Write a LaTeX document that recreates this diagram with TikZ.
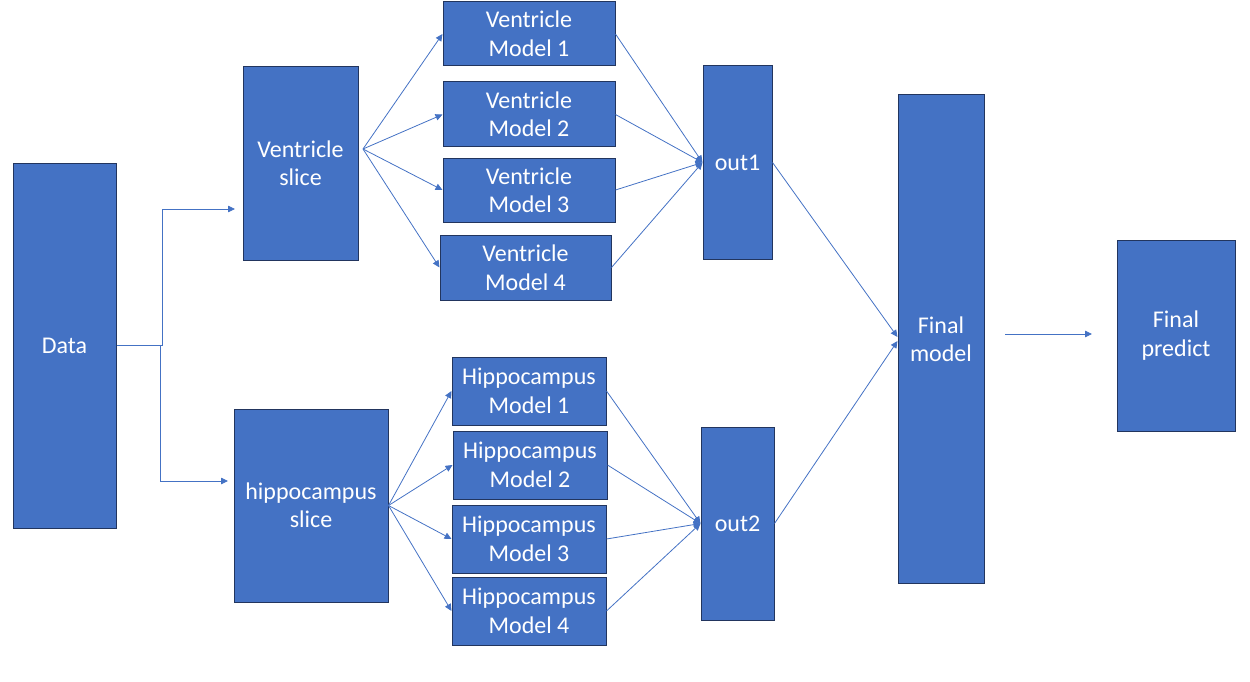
\documentclass[tikz,border=0pt]{standalone}
\usepackage{fontspec}
\setmainfont{Carlito}
\usetikzlibrary{arrows.meta,calc}
\definecolor{boxfill}{HTML}{4472C4}
\definecolor{boxline}{HTML}{22355E}
\definecolor{arrcol}{HTML}{4472C4}
\begin{document}
\begin{tikzpicture}[x=1pt,y=-1pt,
  box/.style={draw=boxline, fill=boxfill, text=white, line width=1pt, inner sep=0pt, align=center,
    font=\fontsize{24}{28.5}\selectfont},
  arr/.style={draw=arrcol, line width=0.8pt, -{Triangle[length=7pt,width=6.5pt]}},
  ln/.style={draw=arrcol, line width=0.8pt}]
\useasboundingbox (0,0) rectangle (1250,682);
% boxes
\node[box, minimum width=103pt, minimum height=365pt] (data) at (64.5,345.5) {Data};
\node[box, minimum width=115pt, minimum height=193pt] (vslice) at (300.5,163.5) {Ventricle\\slice};
\node[box, minimum width=154pt, minimum height=193pt] (hslice) at (311,505.5) {hippocampus\\slice};
\node[box, minimum width=172pt, minimum height=64pt] (vm1) at (529,34) {Ventricle\\Model 1};
\node[box, minimum width=172pt, minimum height=65pt] (vm2) at (529,114.5) {Ventricle\\Model 2};
\node[box, minimum width=172pt, minimum height=64pt] (vm3) at (529,190) {Ventricle\\Model 3};
\node[box, minimum width=171pt, minimum height=65pt] (vm4) at (525.5,267.5) {Ventricle\\Model 4};
\node[box, minimum width=154pt, minimum height=68pt] (hm1) at (529,391) {Hippocampus\\Model 1};
\node[box, minimum width=154pt, minimum height=68pt] (hm2) at (530,465) {Hippocampus\\Model 2};
\node[box, minimum width=154pt, minimum height=68pt] (hm3) at (529,539) {Hippocampus\\Model 3};
\node[box, minimum width=154pt, minimum height=68pt] (hm4) at (529,611) {Hippocampus\\Model 4};
\node[box, minimum width=69pt, minimum height=193pt] (out1) at (737.5,162.5) {out1};
\node[box, minimum width=73pt, minimum height=193pt] (out2) at (737.5,523.5) {out2};
\node[box, minimum width=86pt, minimum height=488pt] (fm) at (941,339) {Final\\model};
\node[box, minimum width=118pt, minimum height=191pt] (fp) at (1176,335.5) {Final\\predict};
% coordinates
\coordinate (va) at (235,209);
\coordinate (ha) at (228,481);
\coordinate (vs) at (363,149);
\coordinate (fa1) at (1005,334);
\coordinate (fa2) at (1092,334);
% connectors
\draw[arr] (data.east) -- ++(46,0) |- (va);
\draw[arr] (data.east) -- ++(44,0) |- (ha);
\foreach \m in {vm1,vm2,vm3,vm4} {
  \draw[arr] (vs) -- (\m.west);
  \draw[arr] (\m.east) -- (out1.west);
}
\foreach \m in {hm1,hm2,hm3,hm4} {
  \draw[arr] (hslice.east) -- (\m.west);
  \draw[arr] (\m.east) -- (out2.west);
}
\draw[arr] (out1.east) -- ($(fm.west)+(0,-2)$);
\draw[arr] (out2.east) -- ($(fm.west)+(0,2)$);
\draw[arr] (fa1) -- (fa2);
\end{tikzpicture}
\end{document}
